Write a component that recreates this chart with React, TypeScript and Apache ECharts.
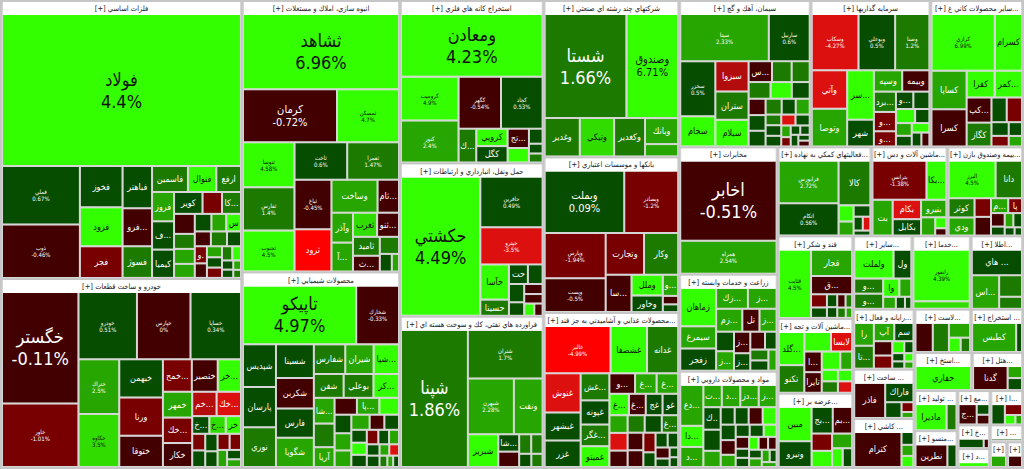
import React, { useEffect, useRef } from 'react';
import * as echarts from 'echarts';

type Leaf = [string, number, number];

const s01: Leaf[] = [["فولاد",35000,4.4],["فملي",4400,0.67],["ذوب",4000,-0.46],["فخوز",1700,0.52],["فرود",1600,4.5],["فجر",1300,-1.5],["فباهتر",1200,0.5],["فروسيل",1080,-0.8],["فاسمين",900,1.5],["فسوژ",900,1.4],["فنوال",710,4.2],["فروز",620,2.5],["ارفع",620,1.8],["كوير",600,0.6],["كيميا",600,0.5],["فس...",600,0.4],["",410,-1.5],["",400,-0.5],["كا...",400,1.5],["",300,2.5],["",300,1.5],["",280,0.5],["",280,2.5],["سم...",250,4.1],["",250,2.5],["",230,1.5],["",230,-0.5],["و...",200,-1.5],["",200,0.5],["",170,-0.5],["",160,2.5],["",150,-1.5],["",150,0.5],["",140,1.5],["",120,4.1],["",100,0.5],["",90,0.5],["",70,2.5],["",60,1.5]];
const s02: Leaf[] = [["خگستر",7900,-0.11],["خاور",4500,-1.01],["خودرو",3650,0.51],["خپارس",3340,0],["خساپا",3150,0.34],["ختراك",2070,2.5],["خكاوه",2000,3.5],["ورنا",1550,-1.5],["خبهمن",1550,0.5],["ختوقا",1260,-0.5],["خمحر...",870,-1.5],["ختصير",780,-0.6],["خمهر",700,2.6],["خريخ...",700,4.5],["خك...",690,-1.5],["خكار",650,-0.5],["خكم...",550,-3.2],["خمو...",550,-2.5],["خ...",280,0.5],["خ...",270,3.6],["خزر",250,4.1],["",200,0.5],["",200,0.5],["",200,-1.5],["",180,-1.5],["",180,0.5],["",170,-1.5],["",150,2.5],["",120,0.5],["",100,2.5]];
const s03: Leaf[] = [["ثشاهد",11100,6.96],["كرمان",4700,-0.72],["ثمسكن",3100,4.7],["ثنوسا",2200,4.58],["ثفارس",2100,1.4],["ثجنوب",2000,4.5],["ثاخت",1870,0.6],["ثعمرا",1840,1.47],["ثباغ",1730,-0.45],["ثرود",1480,-4.5],["وساخت",1440,2.8],["ثام...",670,-0.6],["وآذر",610,2.5],["آ...",590,2.8],["ثغرب",550,3],["ثنو...",500,-0.5],["ثاميد",480,1.6],["ث...",400,-0.5],["",310,1.6],["",200,0.5],["",120,2.5]];
const s04: Leaf[] = [["تاپيكو",6000,4.97],["شخارك",2270,-0.33],["شپديس",1270,0.5],["پارسان",1200,0.6],["نوري",1180,1.5],["شسينا",1150,0.5],["شكربن",1040,-0.6],["شگويا",1000,2],["فارس",1000,0.4],["شفارس",840,1.5],["شيران",760,2.5],["شپا...",680,4.2],["بوعلي",640,1.5],["شفن",640,1.5],["كرما...",550,4.2],["شا...",480,2.6],["",440,1.5],["آريا",370,2.5],["پا...",340,2.8],["",340,-0.5],["",300,4.1],["",280,0.5],["",260,2.5],["",250,2.5],["",250,2.5],["",200,0.5],["",200,-0.5],["",180,0.5],["",170,0.5],["",170,4.1],["",150,-1.5],["",140,0.5],["",130,0.5],["",130,0.5],["",130,2.5],["",100,-3.5],["",100,2.5],["",80,1.5],["",60,0.5],["",60,2.5]];
const s05: Leaf[] = [["ومعادن",8600,4.23],["كروميت",2450,4.9],["كنور",2340,2.4],["كگهر",2140,-0.54],["كچاد",2100,0.53],["ك...",580,1.6],["كرويي",530,4.2],["كگل",500,0.6],["تج...",400,-0.6],["",300,4.1],["",200,0.5],["",130,0.5],["",120,1.5]];
const s06: Leaf[] = [["حكشتي",10700,4.49],["حافرين",3070,0.49],["حپترو",2240,-3.5],["حآسا",980,4.2],["حسينا",450,1.8],["حتو...",360,0.5],["",280,0.5],["",270,0.5],["",200,0.5],["",180,-0.5],["",170,-0.5],["",120,4.1],["",100,-0.5]];
const s07: Leaf[] = [["شپنا",8580,1.86],["شتران",3400,1.7],["شبهرن",2400,2.28],["ونفت",1500,2.6],["شبريز",930,4.2],["شا...",340,0.5],["",300,-0.5],["",220,1.5],["",210,1.5],["",150,0.5],["",140,1.5]];
const s08: Leaf[] = [["شستا",7900,1.66],["وصندوق",5000,6.71],["وغدير",1250,1.5],["وتيكي",1220,3.8],["وكغدير",1100,1.6],["وبانك",800,2.6],["",380,2.5]];
const s09: Leaf[] = [["وبملت",4600,0.09],["وبصادر",3120,-1.2],["وپارس",2550,-1.94],["وپست",1910,-0.5],["وتجارت",1480,-1.3],["وكار",1320,1.6],["سا...",890,-0.4],["وملل",600,4.2],["وخاور",480,0.5],["و...",300,2.5],["",120,-0.5],["",110,0.5]];
const s10: Leaf[] = [["غالبر",2600,-4.99],["غشصفا",1440,4.5],["غدانه",1230,1.5],["غنوش",1180,-3.2],["غبشهر",840,0.5],["غزر",800,0.5],["غش...",650,1.5],["غپونه",580,0.5],["غگر...",520,1.5],["غميتو",500,4.2],["و...",440,-0.5],["غ...",370,2.5],["غ...",370,2.5],["غ...",350,4.1],["غج...",300,0.5],["غ...",300,-0.5],["غو...",280,0.5],["",270,-3.1],["",270,2.8],["",250,0.5],["",250,1.5],["",250,-0.5],["غ...",240,1.5],["",230,-0.5],["",220,-0.5],["",200,-1.5],["",150,0.5],["",150,0.5],["",130,-0.5],["",130,0.5],["",100,0.5],["",70,0.5],["",70,0.5]];
const s11: Leaf[] = [["سيتا",3770,2.33],["سخزر",1740,0.5],["ساربيل",1740,0.6],["سجام",960,4.2],["سبزوا",910,-2.8],["ستران",850,1.5],["سيلام",800,4.2],["س...",440,-0.5],["",370,1.5],["",340,1.5],["",330,1.5],["",320,4.1],["",270,0.5],["",250,-0.5],["",240,0.5],["",240,0.5],["",230,1.5],["",200,2.5],["",200,0.5],["",150,0.5],["",150,0.5],["",150,1.5],["",140,0.5],["",140,-3.5],["",100,2.5],["",80,0.5],["",80,0.5],["",80,0.5],["",80,-1.5],["",60,-0.5],["",60,0.5]];
const s12: Leaf[] = [["وسكاب",2350,-4.27],["وبوعلي",1840,0.5],["وصنا",1725,1.2],["وآتي",1220,-3],["وتوصا",1190,2.3],["سرج...",1180,4.5],["شهر",640,0.5],["وسپه",540,2.5],["وبيمه",520,-0.6],["برد...",400,1.5],["و...",380,-1.2],["و...",300,-1.3],["و...",270,0.5],["",250,0.5],["",240,4.1],["",180,2.5],["",180,0.5],["",150,4.1],["",150,0.5],["",120,0.5],["",100,-0.5]];
const s13: Leaf[] = [["كرازي",3340,6.99],["كسرام",1430,4.5],["كساپا",1260,2.2],["كسرا",1220,-0.6],["كفرا",700,4.2],["كمر...",680,4.2],["كپ...",580,-0.5],["كگاز",550,1.6],["",350,-1.5],["",350,0.5],["",220,0.5],["",170,0.5],["",170,-1.5],["",130,2.5]];
const s14: Leaf[] = [["اخابر",7680,-0.51],["همراه",3170,2.54]];
const s15: Leaf[] = [["زماهان",1260,4.5],["زفجر",730,0.5],["سيمرغ",730,2.8],["زك...",610,2.5],["زم...",550,2.5],["ز...",550,2.3],["ز...",360,2.5],["تل...",360,-0.5],["ز...",320,-0.5],["ز...",320,2.5],["",320,0.5],["ز...",260,0.5],["",240,-0.5],["",190,0.5],["",180,1.5],["",170,0.5],["",160,2.5]];
const s16: Leaf[] = [["دع...",780,2.5],["دا...",400,4.2],["د...",380,2.8],["دز...",340,2.5],["د...",340,2.5],["ت...",340,2.5],["ز...",330,2.5],["ك...",320,0.5],["",300,0.5],["",230,2.5],["",200,4.1],["",200,-0.5],["",200,0.5],["",200,0.5],["",190,0.5],["",180,-0.5],["",150,2.5],["",140,0.5],["",140,0.5],["",130,-0.5],["",130,4.1],["",100,-0.5],["",100,4.1],["",100,0.5],["",100,0.5],["",90,2.5],["",90,0.5],["",90,-0.5],["",80,2.5],["",70,0.5],["",60,2.5]];
const s17: Leaf[] = [["فرابورس",2420,2.72],["اتكام",1830,0.56],["كالا",1350,1.6],["",230,4.1],["",200,2.5],["",180,0.5],["",120,0.5],["",100,-3.5],["",80,0.5]];
const s18: Leaf[] = [["بترانس",2050,-1.38],["بكا...",760,4.2],["بترا...",700,2.6],["بكام",530,-3.2],["بكابل",450,0.5],["بنيرو",430,2.5],["",250,2.5],["",120,4.1],["",80,-0.5]];
const s19: Leaf[] = [["البرز",1730,4.5],["دانا",970,1.5],["كوثر",490,1.5],["ودي",460,2.5],["",300,-0.5],["",300,-1.5],["م...",250,2.5],["پا...",200,-1.5],["",180,-0.5],["",120,0.5],["",120,2.5],["",120,0.5],["",80,0.5],["",60,0.5]];
const s20: Leaf[] = [["قثابت",2000,4.5],["قجار",980,2.3],["ق...",680,-0.5],["",190,-1.5],["",150,0.5],["",120,0.5],["",100,-0.5],["",100,0.5],["",80,1.5],["",80,1.5],["",60,2.5]];
const s21: Leaf[] = [["گلد...",780,4.5],["تكنو",650,1.8],["",480,4.1],["لابسا",380,-3.2],["تايرا",330,-0.5],["ا...",330,-0.6],["",310,4.1],["",200,2.5],["",170,1.5],["",170,4.1],["",150,-3.1],["",150,4.1]];
const s22: Leaf[] = [["مبين",960,4.5],["ونيرو",720,0.5],["بج...",480,0.6],["بم...",440,-0.5],["",300,-1.5],["",280,4.1],["",250,2.5],["",170,4.1],["",150,0.5]];
const s23: Leaf[] = [["ولملت",1040,4.5],["ولساپا",470,0.5],["و...",400,1.6],["و...",400,1.5],["وا...",270,4.2],["",200,2.5],["",140,2.5],["",100,0.5],["",70,0.5]];
const s24: Leaf[] = [["رانفور",2640,4.39],["",380,3.5]];
const s25: Leaf[] = [["هاي ...",1120,0.5],["اس...",800,2.2],["",430,1.5],["",240,1.5]];
const s26: Leaf[] = [["تا...",410,1.7],["رافزا",410,2.5],["آپ",340,2.5],["سم...",320,0.5],["",240,-0.5],["",220,-1.5],["",130,4.1],["",100,0.5],["",90,0.5],["",80,0.5],["",70,4.1],["",60,2.5]];
const s27: Leaf[] = [["",450,-0.5],["",420,1.5],["",280,2.5],["",150,4.1],["",120,1.5]];
const s28: Leaf[] = [["كطبس",1130,2.5],["",150,0.5]];
const s29: Leaf[] = [["فاذر",930,-0.6],["فاراك",470,0.5],["",220,0.5],["",100,-1.5],["",60,2.5]];
const s30: Leaf[] = [["حفاري",1230,4.5]];
const s31: Leaf[] = [["گدنا",770,-0.5],["",160,0.5],["",160,2.5]];
const s32: Leaf[] = [["كترام",1500,-0.6],["",140,0.5],["",120,4.1],["",120,2.5]];
const s33: Leaf[] = [["ماديرا",720,4.5],["",230,1.5]];
const s34: Leaf[] = [["نطرين",590,-0.6],["",170,0.5]];
const s35: Leaf[] = [["ج...",300,-0.5],["",110,0.5],["",100,-0.5]];
const s36: Leaf[] = [["",220,0.5],["",150,-1.5],["",80,4.1],["",50,2.5]];
const s37: Leaf[] = [["",290,0.5],["",60,-0.5]];
const s38: Leaf[] = [["",180,2.5]];
const s39: Leaf[] = [["",180,-0.5]];
const s40: Leaf[] = [["",150,4.5]];
const s41: Leaf[] = [["",100,0.5]];

const sectorNames: string[] = [
  "فلزات اساسي", "خودرو و ساخت قطعات", "انبوه سازي، املاك و مستغلات", "محصولات شيميايي",
  "استخراج كانه هاي فلزي", "حمل ونقل، انبارداري و ارتباطات", "فراورده هاي نفتي، كك و سوخت هسته اي",
  "شركتهاي چند رشته اي صنعتي", "بانكها و موسسات اعتباري", "محصولات غذايي و آشاميدني به جز قند...",
  "سيمان، آهك و گچ", "سرمايه گذاريها", "ساير محصولات كاني غ...", "مخابرات", "زراعت و خدمات وابسته",
  "مواد و محصولات دارويي", "فعاليتهاي كمكي به نهاده...", "ماشين آلات و دس...", "بيمه وصندوق بازن...",
  "قند و شكر", "ماشين آلات و تجه...", "عرضه برق، گاز، بخ...", "ساير واسطه ...", "خدمات فني ...",
  "اطلاعات و...", "رايانه و فعال...", "لاستيك و پلا...", "استخراج ...", "ساخت محصو...",
  "استخراج نف...", "هتل و رس...", "كاشي و سراميك", "توليد ...", "منسو...", "مع...", "اس...",
  "خر...", "", "", "دنيا...", "...",
];
const sectorSizes: number[] = [
  65700, 44700, 42100, 30300, 22900, 21600, 21300, 20800, 20700, 20600,
  18900, 17200, 13300, 12300, 9350, 9300, 8200, 6650, 6600, 6100,
  5550, 5500, 4250, 4200, 3750, 3600, 2400, 2200, 2960, 2150,
  1900, 2950, 1700, 1550, 1110, 1100, 750, 430, 400, 600, 550,
];
const sectorLeaves: Leaf[][] = [
  s01, s02, s03, s04, s05, s06, s07, s08, s09, s10, s11, s12, s13, s14, s15, s16, s17, s18, s19, s20,
  s21, s22, s23, s24, s25, s26, s27, s28, s29, s30, s31, s32, s33, s34, s35, s36, s37, s38, s39, s40, s41,
];

const FONT = '"DejaVu Sans Condensed", Tahoma, "DejaVu Sans", sans-serif';

function cellColor(c: number): string {
  if (c >= 4) return '#33ff00';
  if (c >= 3) return '#31dc00';
  if (c >= 2) return '#27a500';
  if (c >= 1) return '#1c7a00';
  if (c > 0) return '#064d00';
  if (c > -1) return '#420000';
  if (c > -2) return '#780000';
  if (c > -3) return '#b20c0c';
  if (c > -4.5) return '#dd1010';
  return '#ff0000';
}

function leafLabel(name: string, value: number, c: number) {
  if (!name) return { show: false };
  const color = c >= 3 ? '#111111' : '#ffffff';
  const two = `${name}\n${c}%`;
  if (value >= 5500) return { show: true, formatter: two, fontSize: 18, lineHeight: 22, color };
  if (value >= 4550) return { show: true, formatter: two, fontSize: 11, lineHeight: 13, color };
  if (value >= 1720) return { show: true, formatter: two, fontSize: 6, lineHeight: 7, color };
  return { show: true, formatter: name, fontSize: 9, lineHeight: 11, color };
}

export default function App() {
  const ref = useRef<HTMLDivElement>(null);
  useEffect(() => {
    if (!ref.current) return;
    const chart = echarts.init(ref.current, null, { renderer: 'svg' });
    const data = sectorNames.map((name, i) => ({
      name: name ? `[+] ${name}` : '[+]',
      value: sectorSizes[i],
      children: sectorLeaves[i].map(([n, v, c]) => ({
        name: n,
        value: v,
        itemStyle: { color: cellColor(c) },
        label: leafLabel(n, v, c),
      })),
    }));
    chart.setOption({
      animation: false,
      backgroundColor: '#ffffff',
      textStyle: { fontFamily: FONT },
      series: [
        {
          type: 'treemap',
          left: 0,
          top: 0,
          width: 1024,
          height: 469,
          squareRatio: 1,
          roam: false,
          nodeClick: false,
          breadcrumb: { show: false },
          visibleMin: 1,
          label: {
            show: true,
            position: 'inside',
            align: 'center',
            verticalAlign: 'middle',
            padding: 0,
            overflow: 'truncate',
            ellipsis: '...',
            fontFamily: FONT,
          },
          emphasis: { disabled: true },
          levels: [
            { itemStyle: { borderWidth: 2, gapWidth: 2, borderColor: '#c6c6c6' }, upperLabel: { show: false } },
            {
              itemStyle: { borderWidth: 1, gapWidth: 2, borderColor: '#d6d6d6' },
              upperLabel: {
                show: true,
                height: 13,
                position: 'inside',
                align: 'center',
                verticalAlign: 'middle',
                padding: 0,
                backgroundColor: '#ffffff',
                color: '#1a1a1a',
                fontSize: 7.5,
                fontFamily: FONT,
                overflow: 'truncate',
                ellipsis: '...',
              },
            },
            { itemStyle: { borderWidth: 0 } },
          ],
          data,
        },
      ],
    });
    return () => chart.dispose();
  }, []);
  return <div ref={ref} style={{ position: 'fixed', left: 0, top: 0, width: 1024, height: 469 }} />;
}
